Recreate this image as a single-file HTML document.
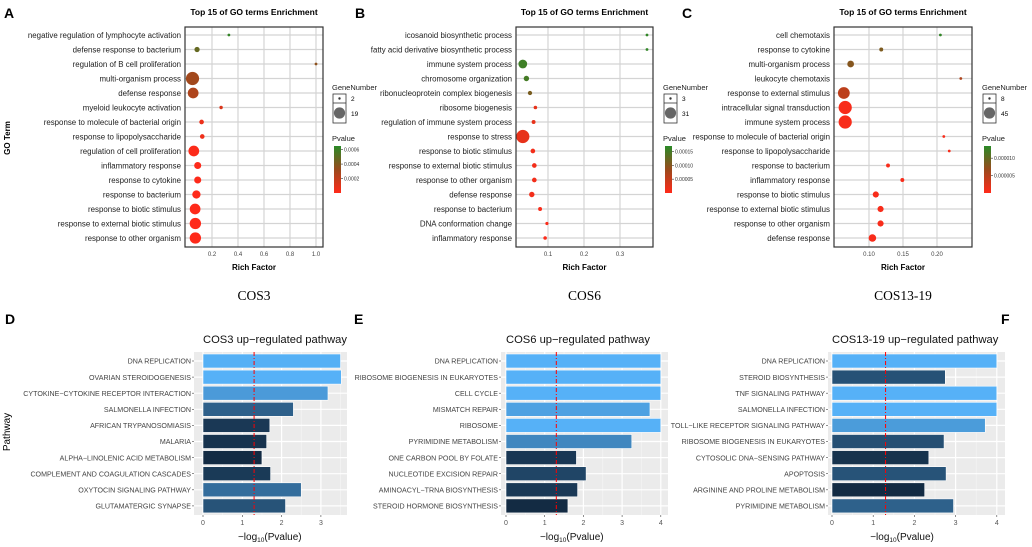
<!DOCTYPE html>
<html><head><meta charset="utf-8"><style>
body{margin:0;background:#fff;}
svg{display:block;font-family:"Liberation Sans",Arial,sans-serif;}
</style></head><body>
<svg id="fig" width="1032" height="547" viewBox="0 0 1032 547" xmlns="http://www.w3.org/2000/svg"></svg>
<script>
// ---------- Panel A data ----------
const aTerms=["negative regulation of lymphocyte activation","defense response to bacterium","regulation of B cell proliferation","multi-organism process","defense response","myeloid leukocyte activation","response to molecule of bacterial origin","response to lipopolysaccharide","regulation of cell proliferation","inflammatory response","response to cytokine","response to bacterium","response to biotic stimulus","response to external biotic stimulus","response to other organism"];
const aRich=[0.33,0.085,1.0,0.05,0.055,0.27,0.12,0.125,0.06,0.09,0.09,0.08,0.07,0.072,0.072];
const aCount=[2,6,2,19,15,3,5,5,15,9,9,11,15,16,16];
const aP=[0.00062,0.00048,0.00036,0.0003,0.00026,0.00012,0.00006,0.00005,0.00001,0.000005,0.000005,0.000004,0.000002,0.000002,0.000002];
const aTicks=[0.2,0.4,0.6,0.8,1.0];
const aTickLabels=["0.2","0.4","0.6","0.8","1.0"];
const aPTicks=[0.0006,0.0004,0.0002];
const aPTickLabels=["0.0006","0.0004","0.0002"];
const aSizeLabels=["2","19"];
// ---------- Panel B data ----------
const bTerms=["icosanoid biosynthetic process","fatty acid derivative biosynthetic process","immune system process","chromosome organization","ribonucleoprotein complex biogenesis","ribosome biogenesis","regulation of immune system process","response to stress","response to biotic stimulus","response to external biotic stimulus","response to other organism","defense response","response to bacterium","DNA conformation change","inflammatory response"];
const bRich=[0.375,0.375,0.03,0.04,0.05,0.065,0.06,0.03,0.058,0.062,0.062,0.055,0.078,0.097,0.092];
const bCount=[3,3,19,10,7,5,6,31,8,8,8,10,6,4,5];
const bP=[0.000165,0.000165,0.000155,0.00015,0.00011,0.00002,0.00002,0.00002,0.00001,0.00001,0.00001,0.00001,0.000005,0.000003,0.000003];
const bTicks=[0.1,0.2,0.3];
const bTickLabels=["0.1","0.2","0.3"];
const bPTicks=[0.00015,0.0001,0.00005];
const bPTickLabels=["0.00015","0.00010","0.00005"];
const bSizeLabels=["3","31"];
// ---------- Panel C data ----------
const cTerms=["cell chemotaxis","response to cytokine","multi-organism process","leukocyte chemotaxis","response to external stimulus","intracellular signal transduction","immune system process","response to molecule of bacterial origin","response to lipopolysaccharide","response to bacterium","inflammatory response","response to biotic stimulus","response to external biotic stimulus","response to other organism","defense response"];
const cRich=[0.205,0.118,0.073,0.235,0.063,0.065,0.065,0.21,0.218,0.128,0.149,0.11,0.117,0.117,0.105];
const cCount=[8,12,22,8,40,45,45,8,8,12,12,20,20,20,25];
const cP=[0.000013,0.0000085,0.000008,0.0000055,0.0000045,0.0000005,0.0000005,0.0000005,0.0000005,0.0000005,0.0000005,0.0000005,0.0000005,0.0000005,0.0000005];
const cTicks=[0.10,0.15,0.20];
const cTickLabels=["0.10","0.15","0.20"];
const cPTicks=[0.00001,0.000005];
const cPTickLabels=["0.000010","0.000005"];
const cSizeLabels=["8","45"];
// ---------- Panel D/E/F data ----------
const dPaths=["DNA REPLICATION","OVARIAN STEROIDOGENESIS","CYTOKINE\u2212CYTOKINE RECEPTOR INTERACTION","SALMONELLA INFECTION","AFRICAN TRYPANOSOMIASIS","MALARIA","ALPHA\u2212LINOLENIC ACID METABOLISM","COMPLEMENT AND COAGULATION CASCADES","OXYTOCIN SIGNALING PATHWAY","GLUTAMATERGIC SYNAPSE"];
const dVals=[3.5,3.52,3.18,2.3,1.7,1.62,1.5,1.72,2.5,2.1];
const ePaths=["DNA REPLICATION","RIBOSOME BIOGENESIS IN EUKARYOTES","CELL CYCLE","MISMATCH REPAIR","RIBOSOME","PYRIMIDINE METABOLISM","ONE CARBON POOL BY FOLATE","NUCLEOTIDE EXCISION REPAIR","AMINOACYL\u2212TRNA BIOSYNTHESIS","STEROID HORMONE BIOSYNTHESIS"];
const eVals=[4,4,4,3.72,4,3.25,1.82,2.07,1.85,1.6];
const fPaths=["DNA REPLICATION","STEROID BIOSYNTHESIS","TNF SIGNALING PATHWAY","SALMONELLA INFECTION","TOLL\u2212LIKE RECEPTOR SIGNALING PATHWAY","RIBOSOME BIOGENESIS IN EUKARYOTES","CYTOSOLIC DNA\u2212SENSING PATHWAY","APOPTOSIS","ARGININE AND PROLINE METABOLISM","PYRIMIDINE METABOLISM"];
const fVals=[4,2.75,4,4,3.72,2.72,2.35,2.77,2.25,2.95];
const barTicks=[0,1,2,3,4];
const threshold=1.3;

const NS="http://www.w3.org/2000/svg";
const svg=document.getElementById('fig');
function mk(tag,attrs,parent,text){const e=document.createElementNS(NS,tag);for(const k in attrs)e.setAttribute(k,attrs[k]);if(text!==undefined)e.textContent=text;(parent||svg).appendChild(e);return e;}
function lerp(a,b,t){return a+(b-a)*t;}
function mixHex(c1,c2,t){const p=h=>[1,3,5].map(i=>parseInt(h.substr(i,2),16));const a=p(c1),b=p(c2);return 'rgb('+a.map((v,i)=>Math.round(lerp(v,b[i],t))).join(',')+')';}
function pColor(t){
  if(t<0.5)return mixHex('#ff2a1a','#9a4a1c',t*2);
  return mixHex('#9a4a1c','#2a8a28',(t-0.5)*2);
}

function dotPanel(o){
  const g=mk('g',{});
  
  
  const x=v=>o.x0+(v-o.t0)*o.scale;
  const y=i=>35+14.5*i;
  mk('rect',{x:o.L,y:27,width:o.R-o.L,height:220,fill:'#fff'},g);
  o.ticks.forEach((t,i)=>{
    const gl=mk('line',{x1:x(t),x2:x(t),y1:27,y2:247,stroke:'#d4d4d4','stroke-width':1.2},g);
    
    
    const tl=mk('text',{x:x(t),y:256,'font-size':6,'text-anchor':'middle',fill:'#444'},g,o.tickLabels[i]);
    
    
  });
  const cmin=Math.min(...o.count),cmax=Math.max(...o.count);
  o.terms.forEach((t,i)=>{
    mk('line',{x1:o.L,x2:o.R,y1:y(i),y2:y(i),stroke:'#d4d4d4','stroke-width':1.2},g);
    const lb=mk('text',{x:o.L-4,y:y(i)+3,'font-size':7.9,'text-anchor':'end',fill:'#222'},g,t);
    
    
  });
  o.terms.forEach((t,i)=>{
    const r=1.4+5.2*(o.count[i]-cmin)/(cmax-cmin);
    const c=mk('circle',{cx:x(o.rich[i]),cy:y(i),r:r,fill:pColor(o.p[i]/o.pmax)},g);
    
    
  });
  mk('rect',{x:o.L,y:27,width:o.R-o.L,height:220,fill:'none',stroke:'#333','stroke-width':1.2},g);
  const ti=mk('text',{x:(o.L+o.R)/2,y:15,'font-size':8.5,'font-weight':'bold','text-anchor':'middle'},g,'Top 15 of GO terms Enrichment');
  
  
  const xt=mk('text',{x:(o.L+o.R)/2,y:270,'font-size':8,'font-weight':'bold','text-anchor':'middle'},g,'Rich Factor');
  
  
  const cap=mk('text',{x:(o.L+o.R)/2,y:300,'font-size':13.5,'text-anchor':'middle','font-family':'Liberation Serif, serif'},g,o.caption);
  
  
  const lt=mk('text',{x:o.lx-1,y:90,'font-size':7.5,fill:'#222'},g,'GeneNumber');
  
  
  mk('rect',{x:o.lx,y:94,width:13,height:29,fill:'#fff',stroke:'#333','stroke-width':0.8},g);
  mk('line',{x1:o.lx,x2:o.lx+13,y1:103,y2:103,stroke:'#333','stroke-width':0.8},g);
  mk('circle',{cx:o.lx+6.5,cy:98.5,r:1.2,fill:'#333'},g);
  mk('circle',{cx:o.lx+6.5,cy:113,r:5.6,fill:'#666'},g);
  const s1=mk('text',{x:o.lx+18,y:101,'font-size':6.5},g,o.sizeLabels[0]);
  
  
  const s2=mk('text',{x:o.lx+18,y:116,'font-size':6.5},g,o.sizeLabels[1]);
  
  
  const pt=mk('text',{x:o.lx-1,y:141,'font-size':7.5,fill:'#222'},g,'Pvalue');
  
  
  const gid='grad'+o.id;
  const d=mk('defs',{},g);const lg=mk('linearGradient',{id:gid,x1:0,y1:0,x2:0,y2:1},d);
  mk('stop',{offset:'0%','stop-color':'#2a8a28'},lg);mk('stop',{offset:'50%','stop-color':'#9a4a1c'},lg);mk('stop',{offset:'100%','stop-color':'#ff2a1a'},lg);
  const cb=mk('rect',{x:o.lx+1,y:146,width:7,height:47,fill:'url(#'+gid+')'},g);
  
  
  o.pTicks.forEach((v,i)=>{
    const yy=193-47*v/o.pmax;
    mk('line',{x1:o.lx+8,x2:o.lx+10,y1:yy,y2:yy,stroke:'#333','stroke-width':0.6},g);
    const l=mk('text',{x:o.lx+11,y:yy+2,'font-size':5,fill:'#333'},g,o.pTickLabels[i]);
    
    
  });
}
dotPanel({id:'a',terms:aTerms,rich:aRich,count:aCount,p:aP,pmax:0.00065,ticks:aTicks,tickLabels:aTickLabels,pTicks:aPTicks,pTickLabels:aPTickLabels,sizeLabels:aSizeLabels,L:185,R:323,x0:212,t0:0.2,scale:130,lx:333,caption:'COS3'});
dotPanel({id:'b',terms:bTerms,rich:bRich,count:bCount,p:bP,pmax:0.00017,ticks:bTicks,tickLabels:bTickLabels,pTicks:bPTicks,pTickLabels:bPTickLabels,sizeLabels:bSizeLabels,L:516,R:653,x0:548,t0:0.1,scale:360,lx:664,caption:'COS6'});
dotPanel({id:'c',terms:cTerms,rich:cRich,count:cCount,p:cP,pmax:0.0000135,ticks:cTicks,tickLabels:cTickLabels,pTicks:cPTicks,pTickLabels:cPTickLabels,sizeLabels:cSizeLabels,L:834,R:972,x0:869,t0:0.1,scale:680,lx:983,caption:'COS13-19'});

function barPanel(o){
  const g=mk('g',{});
  
  
  const x=v=>o.x0+v*o.scale;
  const y=i=>361+16.1*i;
  mk('rect',{x:o.L,y:352,width:o.R-o.L,height:163,fill:'#ebebeb'},g);
  for(let t=0.5;x(t)<o.R;t+=1)mk('line',{x1:x(t),x2:x(t),y1:352,y2:515,stroke:'#f6f6f6','stroke-width':0.6},g);
  o.ticks.forEach(t=>{ if(x(t)>o.R)return;
    const gl=mk('line',{x1:x(t),x2:x(t),y1:352,y2:515,stroke:'#fff','stroke-width':1.2},g);
    
    
    mk('line',{x1:x(t),x2:x(t),y1:515,y2:517,stroke:'#444','stroke-width':0.6},g);
    const tl=mk('text',{x:x(t),y:525,'font-size':7,'text-anchor':'middle',fill:'#555'},g,String(t));
    
    
  });
  const vmin=Math.min(...o.vals),vmax=Math.max(...o.vals);
  o.paths.forEach((p,i)=>{
    mk('line',{x1:o.L,x2:o.R,y1:y(i),y2:y(i),stroke:'#fff','stroke-width':1.2},g);
    const t=(o.vals[i]-vmin)/(vmax-vmin);
    const b=mk('rect',{x:x(0),y:y(i)-7,width:x(o.vals[i])-x(0),height:14,fill:mixHex('#132b43','#56b1f7',t),stroke:'#fff','stroke-width':0.6},g);
    
    
    mk('line',{x1:o.L-2,x2:o.L,y1:y(i),y2:y(i),stroke:'#444','stroke-width':0.6},g);
    const lb=mk('text',{x:o.L-3,y:y(i)+2.7,'font-size':7.1,'text-anchor':'end',fill:'#444'},g,p);
    
    
  });
  const th=mk('line',{x1:x(threshold),x2:x(threshold),y1:352,y2:515,stroke:'#ff0000','stroke-width':1,'stroke-dasharray':'4,2,1,2'},g);
  
  
  const ti=mk('text',{x:o.titleX,y:343,'font-size':11.2,fill:'#111'},g,o.title);
  
  
  const xt=mk('text',{x:x(0)+o.scale*1.7,y:540,'font-size':10,'text-anchor':'middle',fill:'#111'},g);
  
  
  mk('tspan',{},xt,'\u2212log');mk('tspan',{'font-size':6.5,dy:2},xt,'10');mk('tspan',{dy:-2},xt,'(Pvalue)');
}
barPanel({id:'d',paths:dPaths,vals:dVals,ticks:barTicks,L:194,R:347,x0:203,scale:39.3,title:'COS3 up\u2212regulated pathway',titleX:203});
barPanel({id:'e',paths:ePaths,vals:eVals,ticks:barTicks,L:501,R:668,x0:506,scale:38.7,title:'COS6 up\u2212regulated pathway',titleX:506});
barPanel({id:'f',paths:fPaths,vals:fVals,ticks:barTicks,L:828,R:1005,x0:832,scale:41.2,title:'COS13-19 up\u2212regulated pathway',titleX:832});

const gy=mk('text',{x:10,y:138,'font-size':8,'font-weight':'bold','text-anchor':'middle',transform:'rotate(-90 10 138)'},svg,'GO Term');


const py=mk('text',{x:10,y:432,'font-size':10,'text-anchor':'middle',transform:'rotate(-90 10 432)'},svg,'Pathway');


const letters=[['A',4,18],['B',355,18],['C',682,18],['D',5,324],['E',354,324],['F',1001,324]];
letters.forEach(l=>{
  const t=mk('text',{x:l[1],y:l[2],'font-size':14,'font-weight':'bold'},svg,l[0]);
  
  
});
</script>
</body></html>
